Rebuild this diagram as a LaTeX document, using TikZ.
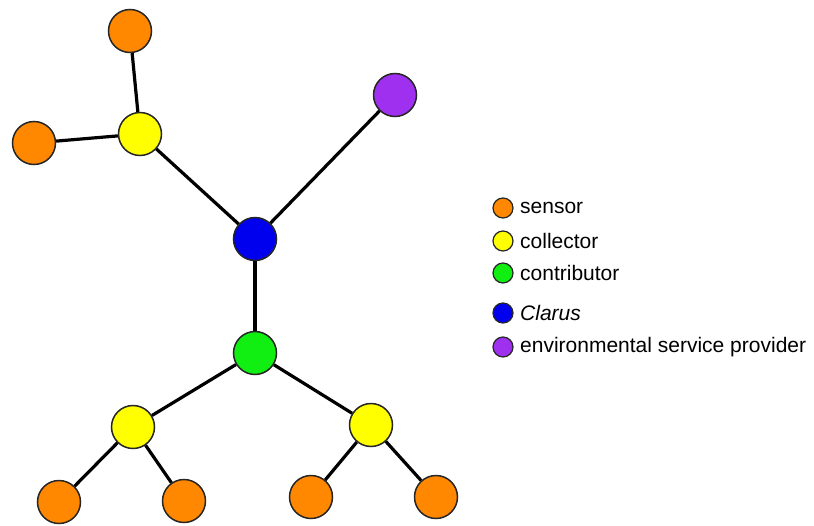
\documentclass[tikz,border=0pt]{standalone}
\usepackage{fontspec}
\setmainfont{Liberation Sans}
\definecolor{cSensor}{HTML}{FF8800}
\definecolor{cCollector}{HTML}{FFFF00}
\definecolor{cContrib}{HTML}{11EE11}
\definecolor{cClarus}{HTML}{0000EE}
\definecolor{cEsp}{HTML}{A030F0}
\begin{document}
\begin{tikzpicture}[x=1pt,y=-1pt,
  nd/.style={circle,draw=black!85,line width=1.5pt,minimum size=43pt,inner sep=0pt},
  lg/.style={circle,draw=black!85,line width=1.2pt,minimum size=20pt,inner sep=0pt},
  lt/.style={anchor=west,font=\fontsize{21}{24}\selectfont,inner sep=0pt},
  edge/.style={line width=3.2pt,black}]
\useasboundingbox (0,0) rectangle (814,525);
\node[nd,fill=cSensor] (s1) at (130,31) {};
\node[nd,fill=cSensor] (s2) at (34,143) {};
\node[nd,fill=cCollector] (c1) at (140,134) {};
\node[nd,fill=cEsp] (p) at (395,95) {};
\node[nd,fill=cClarus] (b) at (255,239) {};
\node[nd,fill=cContrib] (g) at (255,353) {};
\node[nd,fill=cCollector] (c2) at (133,427) {};
\node[nd,fill=cCollector] (c3) at (371,425) {};
\node[nd,fill=cSensor] (s3) at (59,502) {};
\node[nd,fill=cSensor] (s4) at (184,501) {};
\node[nd,fill=cSensor] (s5) at (311,497) {};
\node[nd,fill=cSensor] (s6) at (436,497) {};
\draw[edge] (s1) -- (c1);
\draw[edge] (s2) -- (c1);
\draw[edge] (c1) -- (b);
\draw[edge] (p) -- (b);
\draw[edge] (b) -- (g);
\draw[edge] (g) -- (c2);
\draw[edge] (g) -- (c3);
\draw[edge] (c2) -- (s3);
\draw[edge] (c2) -- (s4);
\draw[edge] (c3) -- (s5);
\draw[edge] (c3) -- (s6);
% legend
\node[lg,fill=cSensor] (l1) at (503,208) {};
\node[lg,fill=cCollector] (l2) at (503,241) {};
\node[lg,fill=cContrib] (l3) at (503,273) {};
\node[lg,fill=cClarus] (l4) at (503,313) {};
\node[lg,fill=cEsp] (l5) at (503,347) {};
\node[lt] (t1) at (520,208) {sensor};
\node[lt] (t2) at (520,241) {collector};
\node[lt] (t3) at (520,273) {contributor};
\node[lt] (t4) at (520,313) {\itshape Clarus};
\node[lt] (t5) at (520,347) {environmental service provider};
\end{tikzpicture}
\end{document}
